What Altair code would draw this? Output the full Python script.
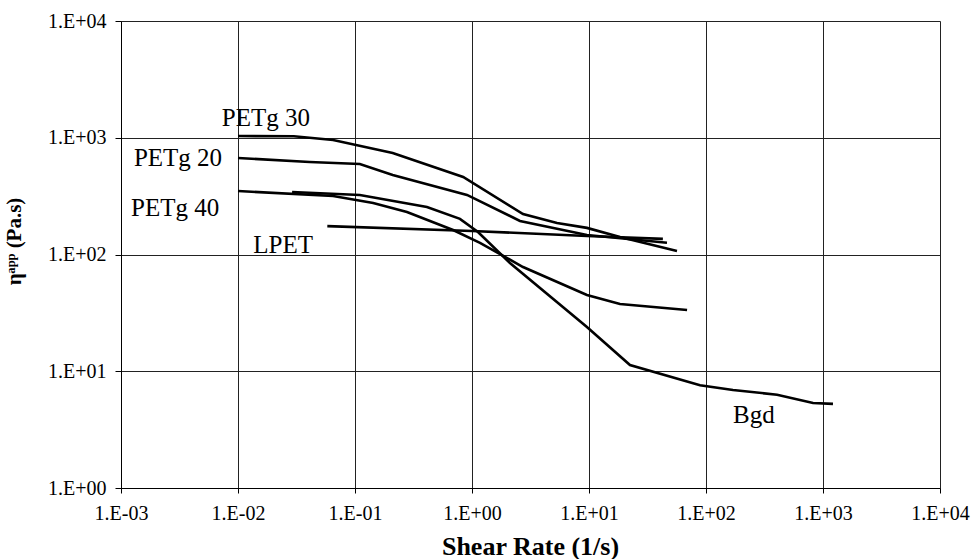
import altair as alt
import pandas as pd

# Series (shear rate 1/s, apparent viscosity Pa.s)
petg30_x = [0.01, 0.03, 0.065, 0.21, 0.84, 2.73, 5.33, 9.6, 18.4, 56.5]
petg30_y = [1035, 1030, 957, 740, 461, 222, 186, 169, 141, 107]

petg20_x = [0.01, 0.041, 0.11, 0.21, 0.906, 2.57, 9.6, 46.4]
petg20_y = [671, 620, 596, 480, 324, 194, 147, 126]

petg40_x = [0.01, 0.065, 0.143, 0.278, 0.689, 1.17, 2.73, 9.6, 18.4, 68.9]
petg40_y = [350, 317, 276, 231, 162, 126, 78.1, 45.0, 37.7, 33.5]

lpet_x = [0.058, 1.0, 9.6, 42.8]
lpet_y = [175, 159, 144, 136]

bgd_x = [0.029, 0.11, 0.412, 0.789, 1.125, 2.11, 9.6, 22.4, 88.9, 170, 405, 822, 1217]
bgd_y = [343, 323, 255, 202, 156, 84.6, 23.9, 11.3, 7.6, 6.9, 6.3, 5.35, 5.25]

label_text = ["PETg 30", "PETg 20", "PETg 40", "LPET", "Bgd"]
label_x = [0.0173, 0.00307, 0.0029, 0.0243, 257]
label_y = [1476, 671, 250, 120, 4.2]

x_ticks = [1e-3, 1e-2, 1e-1, 1e0, 1e1, 1e2, 1e3, 1e4]
y_ticks = [1e0, 1e1, 1e2, 1e3, 1e4]

rows = []
for name, xs, ys in [("PETg 30", petg30_x, petg30_y), ("PETg 20", petg20_x, petg20_y),
                     ("PETg 40", petg40_x, petg40_y), ("LPET", lpet_x, lpet_y),
                     ("Bgd", bgd_x, bgd_y)]:
    for i, (a, b) in enumerate(zip(xs, ys)):
        rows.append({"series": name, "x": a, "y": b, "order": i})
df = pd.DataFrame(rows)
labels = pd.DataFrame({"text": label_text, "x": label_x, "y": label_y})

FONT = "Liberation Serif"
lab_expr = "'1.E' + (log(datum.value)/LN10 < -0.01 ? '-' : '+') + '0' + abs(round(log(datum.value)/LN10))"

xscale = alt.Scale(type="log", domain=[1e-3, 1e4], nice=False)
yscale = alt.Scale(type="log", domain=[1, 1e4], nice=False)

xaxis = alt.Axis(values=x_ticks, labelExpr=lab_expr, title="Shear Rate (1/s)",
                 labelFont=FONT, labelFontSize=20, labelColor="black",
                 titleFont=FONT, titleFontSize=26, titleFontWeight="bold", titleColor="black",
                 titleX=409, titleY=58, titleBaseline="middle", titleAlign="center",
                 domainColor="black", tickColor="black", tickSize=5, labelPadding=10,
                 grid=True, gridColor="#222222", gridWidth=1, labelFlush=False)
yaxis = alt.Axis(values=y_ticks, labelExpr=lab_expr, title="ηᵃᵖᵖ (Pa.s)",
                 labelFont=FONT, labelFontSize=20, labelColor="black",
                 titleFont=FONT, titleFontSize=21, titleFontWeight="bold", titleColor="black",
                 titleX=-107, titleY=220, titleBaseline="middle", titleAlign="center", titleAngle=-90,
                 domainColor="black", tickColor="black", tickSize=6, labelPadding=9,
                 grid=True, gridColor="#222222", gridWidth=1, labelFlush=False)

lines = alt.Chart(df).mark_line(color="black", strokeWidth=2.6).encode(
    x=alt.X("x:Q", scale=xscale, axis=xaxis),
    y=alt.Y("y:Q", scale=yscale, axis=yaxis),
    detail="series:N",
    order="order:Q",
)

texts = alt.Chart(labels).mark_text(font=FONT, fontSize=25, color="black",
                                    align="center", baseline="middle").encode(
    x=alt.X("x:Q", scale=xscale),
    y=alt.Y("y:Q", scale=yscale),
    text="text:N",
)

chart = alt.layer(lines, texts).properties(
    width=819, height=467,
    autosize=alt.AutoSizeParams(type="none"),
    padding={"left": 121, "top": 21, "right": 32, "bottom": 71},
).configure_view(stroke="black", strokeWidth=1).configure(background="white")

chart.save("out.html", embed_options={"renderer": "svg", "actions": False})
